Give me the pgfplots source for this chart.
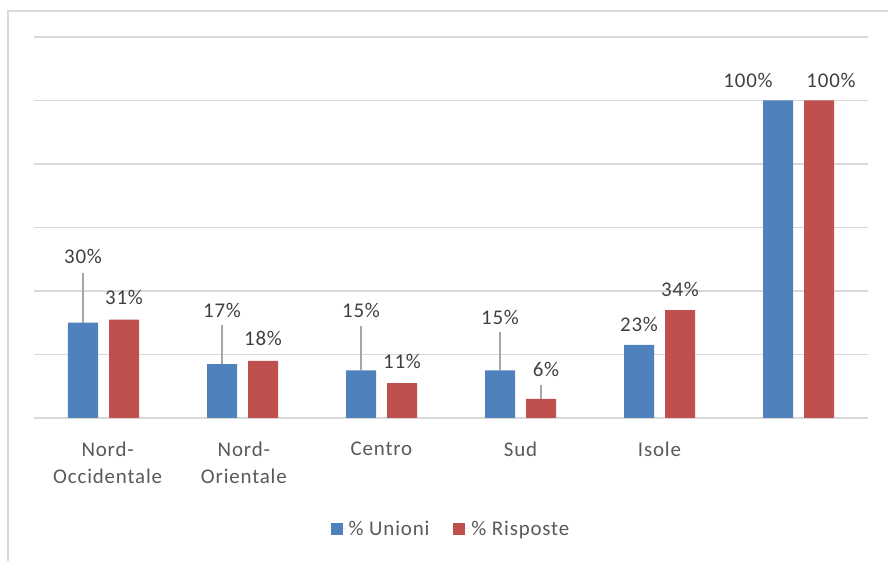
\documentclass[border=0pt]{standalone}
\usepackage{pgfplots}
\pgfplotsset{compat=1.18}
\usepackage{pgfplotstable}
\usepackage{fontspec}
\setmainfont{Carlito}[LetterSpace=4]
\definecolor{cblue}{HTML}{4F81BD}
\definecolor{cred}{HTML}{C0504D}
\definecolor{cgrid}{HTML}{D9D9D9}
\definecolor{clab}{HTML}{404040}
\definecolor{caxis}{HTML}{595959}
\definecolor{cline}{HTML}{A6A6A6}

% x, value, label offset above bar top (bp), horizontal shift (bp), leader line length (%)
\pgfplotstableread{
x y dy dx line
0 30 66 0 15.7
1 17 54 0 12.3
2 15 60 0 13.9
3 15 53 0 12.0
4 23 21 0 0
5 100 20 -30 0
}\unioni
\pgfplotstableread{
x y dy dx line
0 31 22 0 0
1 18 22 0 0
2 11 22 0 0
3 6 29 5 4.4
4 34 21 0 0
5 100 20 12 0
}\risposte

\begin{document}
\begin{tikzpicture}
\useasboundingbox (0,0) rectangle (888bp,561bp);
\draw[cgrid, line width=1.3bp] (8bp,0) -- (8bp,550bp) -- (888bp,550bp);
\begin{axis}[
  at={(34bp,143bp)}, anchor=south west,
  scale only axis, width=834bp, height=381bp,
  xmin=-0.5, xmax=5.5, ymin=0, ymax=120,
  ybar=11bp, bar width=30bp,
  axis line style={draw=none},
  major tick length=0pt,
  ytick={0,20,...,120}, yticklabels={},
  ymajorgrids, grid style={cgrid, line width=1.3bp},
  xtick={0.03,1.01,2,3,4,5},
  xticklabels={{Nord-\\Occidentale},{Nord-\\Orientale},Centro,Sud,Isole,{}},
  xticklabel style={align=center, font=\fontsize{21}{28}\selectfont, text=caxis, yshift=-20bp},
  /pgf/number format/assume math mode=true,
  nodes near coords={\pgfmathprintnumber{\pgfplotspointmeta}\%},
  every node near coord/.append style={font=\fontsize{21}{24}\selectfont, text=clab, anchor=center, yshift=\mydy bp, xshift=\mydx bp},
  visualization depends on={\thisrow{dy} \as \mydy},
  visualization depends on={\thisrow{dx} \as \mydx},
  legend style={at={(0.5,-0.2913)}, anchor=center, legend columns=2, draw=none, fill=none,
    font=\fontsize{21}{24}\selectfont, text=caxis,
    /tikz/every even column/.append style={column sep=22bp}},
  legend image code/.code={\path (0bp,0bp) -- (16bp,0bp); \fill[#1] (0bp,-6bp) rectangle (12bp,6bp);},
  error bars/y dir=plus, error bars/y explicit,
  error bars/error mark=none,
  error bars/error bar style={cline, line width=1.5bp},
]
\addplot[fill=cblue, draw=none] table[x=x, y=y, y error plus=line] {\unioni};
\addlegendentry{\% Unioni}
\addplot[fill=cred, draw=none] table[x=x, y=y, y error plus=line] {\risposte};
\addlegendentry{\% Risposte}
\end{axis}
\end{tikzpicture}
\end{document}
